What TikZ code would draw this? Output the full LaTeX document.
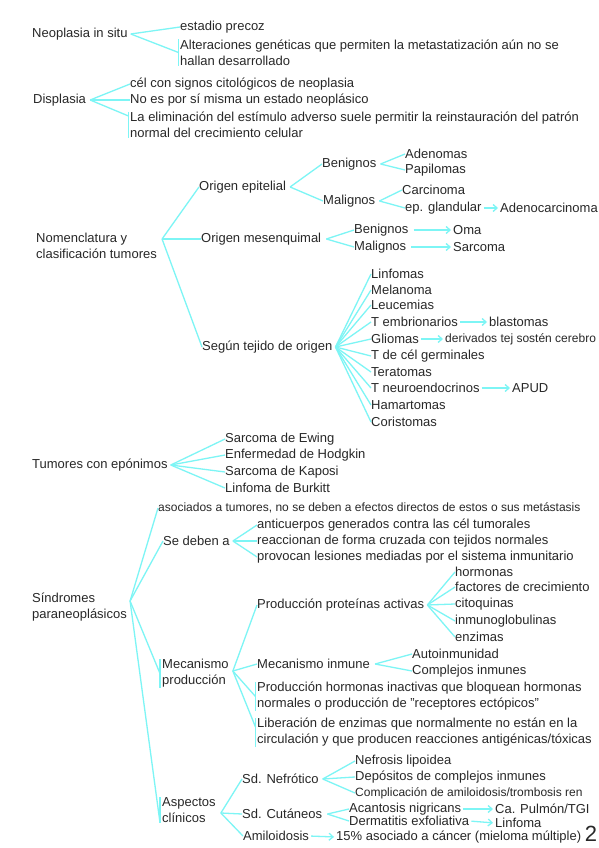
\documentclass[tikz,border=0pt]{standalone}
\usepackage{fontspec}
\setmainfont{Liberation Sans}
\usetikzlibrary{arrows.meta,calc}
\definecolor{ink}{RGB}{40,40,40}
\definecolor{cy}{RGB}{125,245,245}
\begin{document}
\begin{tikzpicture}[x=1pt,y=-1pt,
 tx/.style={anchor=west,inner sep=0pt,text=ink,font=\fontsize{13}{16}\selectfont,align=left},
 txs/.style={tx,font=\fontsize{12}{16}\selectfont},
 br/.style={draw=cy,line width=1.3pt},
 ar/.style={br,-{Straight Barb[length=4pt,width=7pt]},shorten <=2pt,shorten >=2pt},
]
\useasboundingbox (0,0) rectangle (599,848);
\fill[white] (0,0) rectangle (599,848);

% ---------- Neoplasia in situ
\node[tx] (neo) at (32,34) {Neoplasia in situ};
\node[tx] (est) at (180,27) {estadio precoz};
\node[tx] (alt) at (180,52.5) {Alteraciones genéticas que permiten la metastatización aún no se\\hallan desarrollado};
\coordinate (nf) at ([xshift=3pt]neo.east);
\draw[br] (nf) -- (est.west);
\draw[br] (nf) -- ([xshift=-1.5pt]alt.west);
\draw[br] ([xshift=-1.5pt]alt.north west) -- ([xshift=-1.5pt]alt.south west);

% ---------- Displasia
\node[tx] (dis) at (33,100) {Displasia};
\node[tx] (cel) at (130,84) {cél con signos citológicos de neoplasia};
\node[tx] (noes) at (130,100) {No es por sí misma un estado neoplásico};
\node[tx] (eli) at (130,125) {La eliminación del estímulo adverso suele permitir la reinstauración del patrón\\normal del crecimiento celular};
\coordinate (df) at ([xshift=4pt]dis.east);
\draw[br] (df) -- (cel.west);
\draw[br] (df) -- (noes.west);
\draw[br] (df) -- ([xshift=-1.5pt,yshift=9pt]eli.west);
\draw[br] ([xshift=-1.5pt]eli.north west) -- ([xshift=-1.5pt]eli.south west);

% ---------- Nomenclatura
\node[tx] (nom) at (36,245.5) {Nomenclatura y\\clasificación tumores};
\coordinate (nof) at ([shift={(5,-6.5)}]nom.east);
\node[tx] (epi) at (199,187) {Origen epitelial};
\node[tx] (mes) at (201,239) {Origen mesenquimal};
\node[tx] (seg) at (202,347) {Según tejido de origen};
\draw[br] (nof) -- (epi.west);
\draw[br] (nof) -- (mes.west);
\draw[br] (nof) -- (seg.west);

\node[tx] (ben1) at (322,164) {Benignos};
\node[tx] (mal1) at (323,201) {Malignos};
\coordinate (epf) at ([xshift=4pt]epi.east);
\draw[br] (epf) -- (ben1.west);
\draw[br] (epf) -- (mal1.west);
\node[tx] (aden) at (405,154) {Adenomas};
\node[tx] (papi) at (405,170) {Papilomas};
\coordinate (b1f) at ([xshift=4pt]ben1.east);
\draw[br] (b1f) -- (aden.west);
\draw[br] (b1f) -- (papi.west);
\node[tx] (carc) at (402,190) {Carcinoma};
\node[tx] (epg) at (405,208) {ep. glandular};
\node[tx] (adc) at (500,208) {Adenocarcinoma};
\coordinate (m1f) at ([xshift=4pt]mal1.east);
\draw[br] (m1f) -- (carc.west);
\draw[br] (m1f) -- (epg.west);
\draw[ar] (epg.east) -- (adc.west);

\node[tx] (ben2) at (354,230) {Benignos};
\node[tx] (mal2) at (354,247) {Malignos};
\coordinate (msf) at ([xshift=5pt]mes.east);
\draw[br] (msf) -- (ben2.west);
\draw[br] (msf) -- (mal2.west);
\node[tx] (oma) at (453,230) {Oma};
\node[tx] (sarc) at (453,247) {Sarcoma};
\draw[ar] ([xshift=3pt]ben2.east) -- (oma.west);
\draw[ar] ([xshift=3pt]mal2.east) -- (sarc.west);

\coordinate (sgf) at ([xshift=3pt]seg.east);
\foreach \nm/\yy/\tt in {lin/274/Linfomas, mel/290/Melanoma, leu/305/Leucemias, temb/322/T embrionarios, gli/339/Gliomas, tger/356/T de cél germinales, ter/372/Teratomas, tneu/388/T neuroendocrinos, ham/405/Hamartomas, cor/422/Coristomas}{
  \node[tx] (\nm) at (371,\yy) {\tt};
  \draw[br] (sgf) -- (\nm.west);
}
\node[tx] (blas) at (489,322) {blastomas};
\node[txs] (deri) at (445,339) {derivados tej sostén cerebro};
\node[tx] (apud) at (512,388) {APUD};
\draw[ar] (temb.east) -- (blas.west);
\draw[ar] (gli.east) -- (deri.west);
\draw[ar] (tneu.east) -- (apud.west);

% ---------- Tumores con epónimos
\node[tx] (tum) at (32,465) {Tumores con epónimos};
\coordinate (tf) at ([xshift=3pt]tum.east);
\foreach \nm/\yy/\tt in {ew/439/Sarcoma de Ewing, hod/455/Enfermedad de Hodgkin, kap/472/Sarcoma de Kaposi, bur/488/Linfoma de Burkitt}{
  \node[tx] (\nm) at (225,\yy) {\tt};
  \draw[br] (tf) -- (\nm.west);
}

% ---------- Síndromes paraneoplásicos
\node[tx] (sin) at (32,607) {Síndromes\\paraneoplásicos};
\coordinate (sf) at ([shift={(3,-6)}]sin.east);
\node[txs] (aso) at (158,508) {asociados a tumores, no se deben a efectos directos de estos o sus metástasis};
\node[tx] (seb) at (163,541) {Se deben a};
\node[tx] (mec) at (162,673.5) {Mecanismo\\producción};
\node[tx] (asp) at (162,810) {Aspectos\\clínicos};
\draw[br] (sf) -- (aso.west);
\draw[br] (sf) -- (seb.west);
\draw[br] (sf) -- ([xshift=-2pt]mec.west);
\draw[br] (sf) -- ([xshift=-2pt]asp.south west);
\draw[br] ([xshift=-2pt]mec.north west) -- ([xshift=-2pt]mec.south west);
\draw[br] ([xshift=-2pt]asp.north west) -- ([xshift=-2pt]asp.south west);

\coordinate (sbf) at ([xshift=3pt]seb.east);
\foreach \nm/\yy/\tt in {anti/525/anticuerpos generados contra las cél tumorales, reac/541/reaccionan de forma cruzada con tejidos normales, prov/557/provocan lesiones mediadas por el sistema inmunitario}{
  \node[tx] (\nm) at (257,\yy) {\tt};
  \draw[br] (sbf) -- (\nm.west);
}

\coordinate (mcf) at ([shift={(4,-2.5)}]mec.east);
\node[tx] (pro) at (257,605) {Producción proteínas activas};
\node[tx] (mi) at (257,664) {Mecanismo inmune};
\node[tx] (phi) at (257,696.5) {Producción hormonas inactivas que bloquean hormonas\\normales o producción de "receptores ectópicos"};
\node[tx] (lib) at (257,732.5) {Liberación de enzimas que normalmente no están en la\\circulación y que producen reacciones antigénicas/tóxicas};
\draw[br] (mcf) -- (pro.west);
\draw[br] (mcf) -- (mi.west);
\draw[br] (mcf) -- ([xshift=-1.5pt]phi.west);
\draw[br] (mcf) -- ([xshift=-1.5pt,yshift=5.5pt]lib.west);
\draw[br] ([xshift=-1.5pt]phi.north west) -- ([xshift=-1.5pt]phi.south west);
\draw[br] ([xshift=-1.5pt]lib.north west) -- ([xshift=-1.5pt]lib.south west);

\coordinate (prf) at ([xshift=3pt]pro.east);
\foreach \nm/\yy/\tt in {hor/572/hormonas, fac/587/factores de crecimiento, cit/604/citoquinas, inm/621/inmunoglobulinas, enz/637/enzimas}{
  \node[tx] (\nm) at (455,\yy) {\tt};
  \draw[br] (prf) -- (\nm.west);
}
\coordinate (mif) at ([xshift=5pt]mi.east);
\node[tx] (auto) at (412,654) {Autoinmunidad};
\node[tx] (cpl) at (412,671) {Complejos inmunes};
\draw[br] (mif) -- (auto.west);
\draw[br] (mif) -- (cpl.west);

\coordinate (apf) at ([shift={(5,3)}]asp.east);
\node[tx] (nef) at (242,779) {Sd. Nefrótico};
\node[tx] (cut) at (242,814) {Sd. Cutáneos};
\node[tx] (ami) at (243,836) {Amiloidosis};
\draw[br] (apf) -- (nef.west);
\draw[br] (apf) -- (cut.west);
\draw[br] (apf) -- (ami.west);

\coordinate (nff) at ([xshift=4pt]nef.east);
\node[tx] (nl) at (355,761) {Nefrosis lipoidea};
\node[tx] (dep) at (355,777) {Depósitos de complejos inmunes};
\node[txs] (cmp) at (355,793) {Complicación de amiloidosis/trombosis ren};
\draw[br] (nff) -- (nl.west);
\draw[br] (nff) -- (dep.west);
\draw[br] (nff) -- (cmp.west);
\coordinate (cuf) at ([xshift=5pt]cut.east);
\node[tx] (acan) at (349,809) {Acantosis nigricans};
\node[tx] (derm) at (349,821) {Dermatitis exfoliativa};
\draw[br] (cuf) -- (acan.west);
\draw[br] (cuf) -- (derm.west);
\node[tx] (capu) at (495,809) {Ca. Pulmón/TGI};
\node[tx] (linf) at (495,823) {Linfoma};
\draw[ar] (acan.east) -- (capu.west);
\draw[ar] (derm.east) -- (linf.west);
\node[tx] (quin) at (336,837) {15\% asociado a cáncer (mieloma múltiple)};
\draw[ar] (ami.east) -- (quin.west);

\node[inner sep=0pt,text=ink,font=\fontsize{22}{22}\selectfont] (pg) at (591,834) {2};
\end{tikzpicture}
\end{document}
